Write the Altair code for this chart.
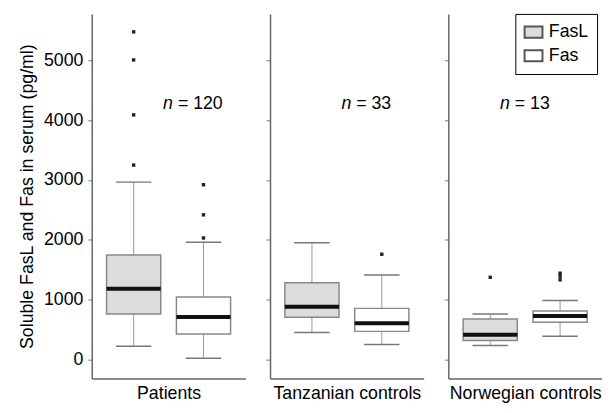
import altair as alt
import pandas as pd

groups = ["Patients", "Tanzanian controls", "Norwegian controls"]
n_counts = [120, 33, 13]
markers = ["FasL", "Fas"]

# per group: [FasL, Fas]
whisk_lo = [[219, 16], [450, 247], [231, 384]]
q1 = [[758, 423], [703, 467], [313, 621]]
med = [[1180, 708], [878, 604], [412, 725]]
q3 = [[1746, 1043], [1280, 852], [675, 807]]
whisk_hi = [[2965, 1960], [1949, 1412], [758, 983]]
outliers = [
    [[3250, 4090, 5010, 5480], [2030, 2417, 2921]],
    [[], [1758]],
    [[1372], [1330, 1390, 1440]],
]

FONT = "Liberation Sans"
FS = 18
n_dx = [-31, -31, -51]

panels = []
for gi, g in enumerate(groups):
    stats = pd.DataFrame({
        "marker": markers,
        "lo": whisk_lo[gi], "q1": q1[gi], "med": med[gi],
        "q3": q3[gi], "hi": whisk_hi[gi],
    })
    outl = pd.DataFrame([
        {"marker": m, "v": v}
        for mi, m in enumerate(markers) for v in outliers[gi][mi]
    ])
    if outl.empty:
        outl = pd.DataFrame({"marker": pd.Series([], dtype=str), "v": pd.Series([], dtype=float)})
    lab = pd.DataFrame({"marker": ["Fas"], "v": [4270], "num": [f"= {n_counts[gi]}"]})

    first = gi == 0
    xenc = alt.X("marker:N", sort=markers,
                 scale=alt.Scale(type="point", padding=0.6),
                 axis=alt.Axis(labels=False, ticks=False, title=g,
                               titleFontSize=FS, titleFont=FONT,
                               titleFontWeight="normal", titleColor="black",
                               titlePadding=6, domainColor="#666",
                               domainWidth=1.5))
    yaxis = alt.Axis(values=[0, 1000, 2000, 3000, 4000, 5000], grid=False, format="d",
                     labels=first, title="Soluble FasL and Fas in serum (pg/ml)" if first else None,
                     labelFontSize=FS, labelFont=FONT, labelColor="black",
                     titleFontSize=FS, titleFont=FONT, titleFontWeight="normal",
                     titleColor="black", titlePadding=7, labelPadding=5,
                     tickSize=4, tickColor="#777", domainColor="#666",
                     domainWidth=1.5)
    yscale = alt.Scale(domain=[-320, 5780], nice=False, zero=False, padding=0)

    base = alt.Chart(stats)
    legend = None
    if gi == 2:
        legend = alt.Legend(title=None, orient="none", legendX=68, legendY=0,
                            labelFontSize=FS, labelFont=FONT, labelColor="black",
                            symbolType="M-1,-0.62H1V0.62H-1Z", symbolSize=330,
                            symbolStrokeColor="#555", symbolStrokeWidth=2,
                            strokeColor="black", padding=8, rowPadding=3,
                            labelOffset=5)

    whisk = base.mark_rule(color="#999", strokeWidth=1).encode(
        x=xenc, y=alt.Y("lo:Q", scale=yscale, axis=yaxis), y2="hi:Q")
    box = base.mark_bar(size=55, stroke="#888", strokeWidth=1.5).encode(
        x=xenc, y=alt.Y("q1:Q", scale=yscale), y2="q3:Q",
        fill=alt.Fill("marker:N", sort=markers,
                      scale=alt.Scale(domain=markers, range=["#dcdcdc", "#ffffff"]),
                      legend=legend))
    median = base.mark_tick(size=55, thickness=4, color="#111", opacity=1).encode(
        x=xenc, y=alt.Y("med:Q", scale=yscale))
    cap_lo = base.mark_tick(size=36, thickness=1.5, color="#777", opacity=1).encode(
        x=xenc, y=alt.Y("lo:Q", scale=yscale))
    cap_hi = base.mark_tick(size=36, thickness=1.5, color="#777", opacity=1).encode(
        x=xenc, y=alt.Y("hi:Q", scale=yscale))
    pts = alt.Chart(outl).mark_square(size=12, color="#222", opacity=1).encode(
        x=xenc, y=alt.Y("v:Q", scale=yscale))
    t_n = alt.Chart(lab).mark_text(text="n", fontStyle="italic", font=FONT,
                                   fontSize=FS, align="right", baseline="middle",
                                   dx=n_dx[gi], color="black").encode(
        x=xenc, y=alt.Y("v:Q", scale=yscale))
    t_num = alt.Chart(lab).mark_text(font=FONT, fontSize=FS, align="left",
                                     baseline="middle", dx=n_dx[gi] + 5,
                                     color="black").encode(
        x=xenc, y=alt.Y("v:Q", scale=yscale), text="num:N")

    layer = alt.layer(whisk, box, median, cap_lo, cap_hi, pts, t_n, t_num).properties(
        width=156, height=370)
    panels.append(layer)

chart = alt.hconcat(*panels, spacing=20).resolve_legend(fill="independent").resolve_scale(
    fill="independent").configure_view(stroke=None).properties(
    padding={"left": 10, "top": 2, "right": 0, "bottom": 0})

chart.save("out.html", embed_options={"renderer": "svg", "actions": False})
